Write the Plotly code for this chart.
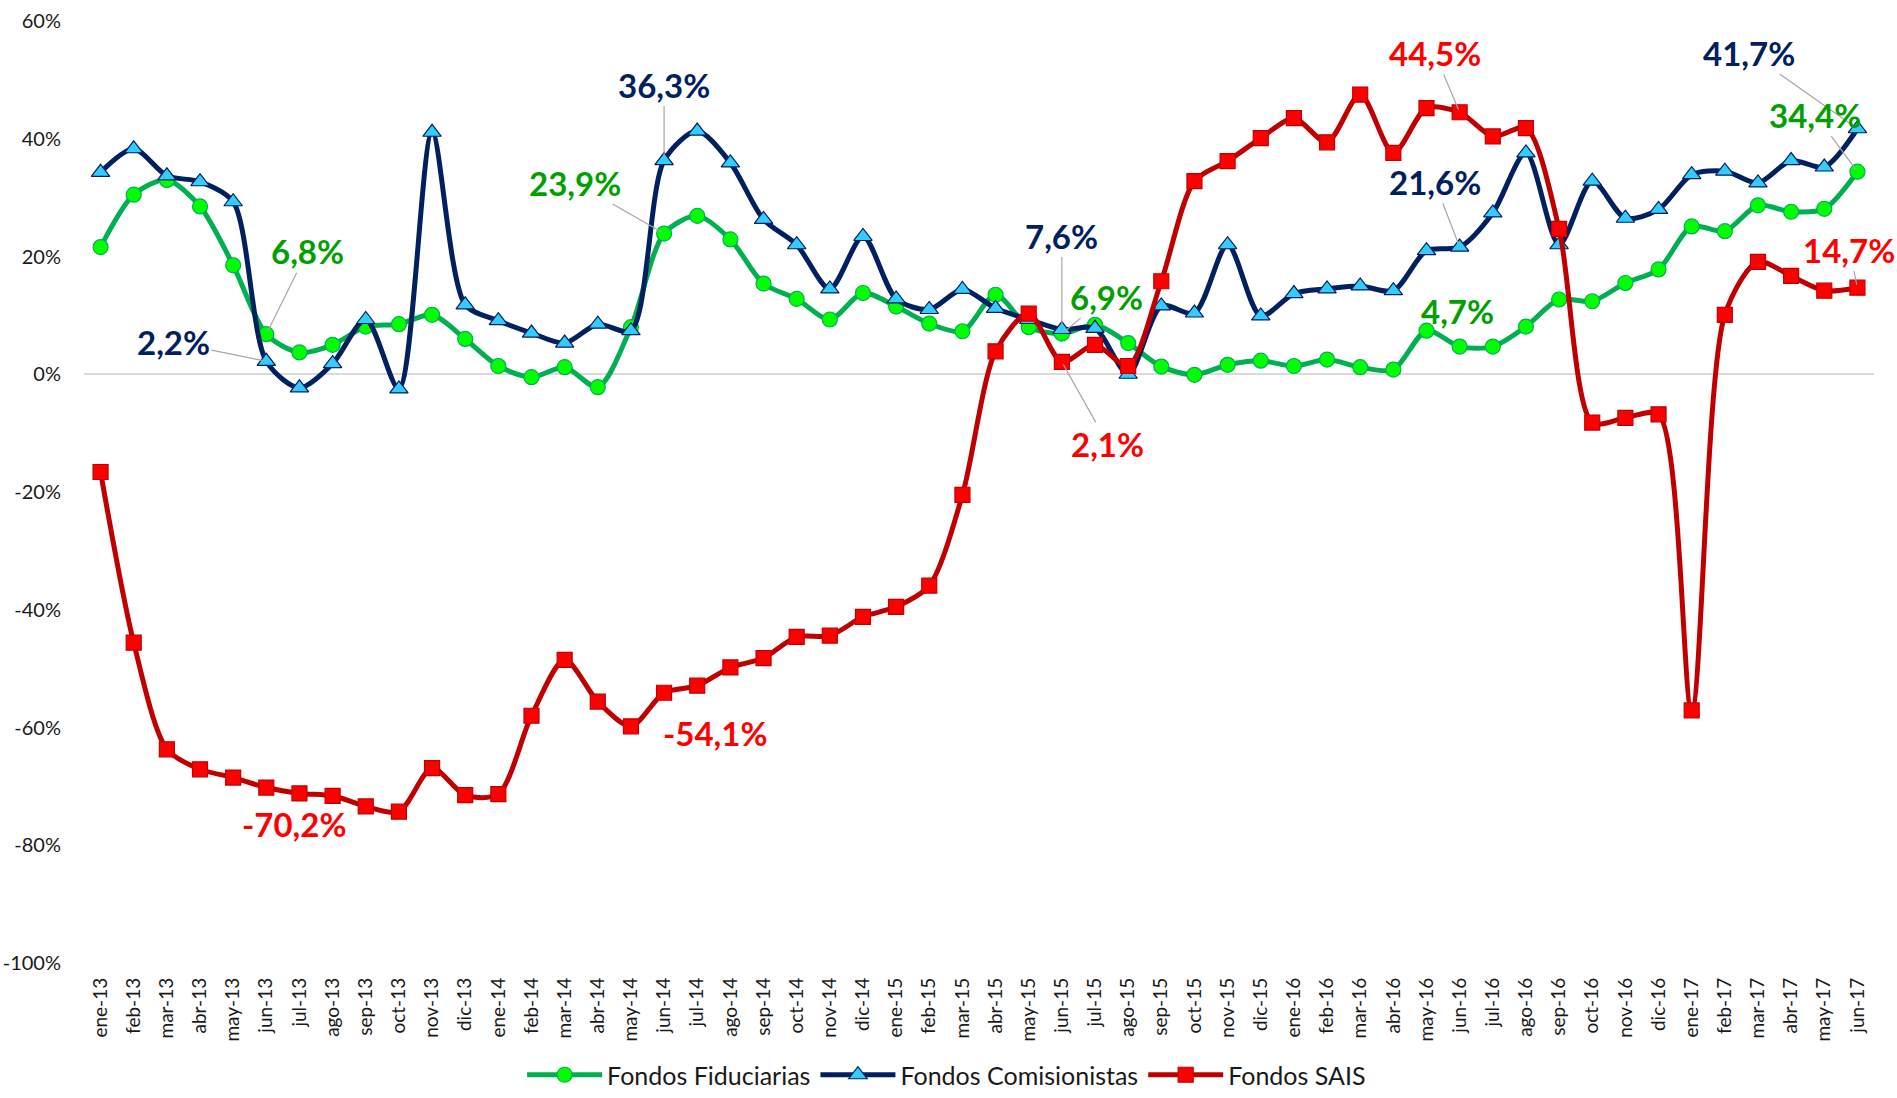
import plotly.graph_objects as go

months = ["ene-13", "feb-13", "mar-13", "abr-13", "may-13", "jun-13", "jul-13", "ago-13", "sep-13", "oct-13", "nov-13", "dic-13",
          "ene-14", "feb-14", "mar-14", "abr-14", "may-14", "jun-14", "jul-14", "ago-14", "sep-14", "oct-14", "nov-14", "dic-14",
          "ene-15", "feb-15", "mar-15", "abr-15", "may-15", "jun-15", "jul-15", "ago-15", "sep-15", "oct-15", "nov-15", "dic-15",
          "ene-16", "feb-16", "mar-16", "abr-16", "may-16", "jun-16", "jul-16", "ago-16", "sep-16", "oct-16", "nov-16", "dic-16",
          "ene-17", "feb-17", "mar-17", "abr-17", "may-17", "jun-17"]

fiduciarias = [21.6, 30.5, 33.0, 28.5, 18.5, 6.8, 3.7, 5.0, 8.1, 8.5, 10.1, 6.0,
               1.4, -0.5, 1.2, -2.2, 8.0, 23.9, 26.9, 22.9, 15.4, 12.8, 9.3, 13.8,
               11.5, 8.6, 7.3, 13.5, 8.0, 6.9, 8.4, 5.3, 1.3, -0.1, 1.6, 2.3,
               1.4, 2.5, 1.2, 0.8, 7.4, 4.7, 4.7, 8.1, 12.7, 12.4, 15.5, 17.8,
               25.1, 24.3, 28.7, 27.6, 28.1, 34.4]

comisionistas = [34.3, 38.3, 33.7, 32.7, 29.3, 2.2, -2.3, 1.8, 9.3, -2.5, 41.1, 11.8,
                 9.1, 7.0, 5.3, 8.5, 7.4, 36.3, 41.3, 35.9, 26.3, 22.0, 14.5, 23.4,
                 12.8, 11.0, 14.4, 11.2, 9.3, 7.6, 7.8, 0.0, 11.6, 10.4, 22.0, 9.9,
                 13.7, 14.5, 15.0, 14.2, 21.0, 21.6, 27.4, 37.6, 22.0, 32.8, 26.5, 28.0,
                 33.9, 34.5, 32.5, 36.3, 35.2, 41.7]

sais = [-16.6, -45.6, -63.7, -67.1, -68.5, -70.2, -71.2, -71.6, -73.4, -74.3, -66.9, -71.5,
        -71.3, -58.0, -48.5, -55.6, -59.8, -54.1, -52.9, -49.8, -48.2, -44.6, -44.4, -41.2,
        -39.5, -35.9, -20.5, 3.9, 10.3, 2.1, 5.0, 1.4, 15.8, 32.8, 36.2, 40.1,
        43.5, 39.4, 47.5, 37.6, 45.2, 44.5, 40.4, 41.8, 24.7, -8.2, -7.4, -6.8,
        -57.1, 10.1, 19.1, 16.7, 14.2, 14.7]

y_ticks = [60, 40, 20, 0, -20, -40, -60, -80, -100]
y_tick_labels = ["60%", "40%", "20%", "0%", "-20%", "-40%", "-60%", "-80%", "-100%"]

series_names = ["Fondos Fiduciarias", "Fondos Comisionistas", "Fondos SAIS"]

# style per series
styles = {
    "Fondos Fiduciarias": dict(line="#00b050", fill="#00ff00", border="#00b050", symbol="circle", size=15, label="#00a000"),
    "Fondos Comisionistas": dict(line="#002060", fill="#33ccff", border="#002060", symbol="triangle-up", size=16, label="#002060"),
    "Fondos SAIS": dict(line="#c00000", fill="#ff0000", border="#c00000", symbol="square", size=15, label="#ff0000"),
}
values = {"Fondos Fiduciarias": fiduciarias, "Fondos Comisionistas": comisionistas, "Fondos SAIS": sais}

# callouts: (series, month, offset x px, offset y px, leader line)
callouts = [
    ("Fondos Comisionistas", "jun-13", -93, -19, True),
    ("Fondos Fiduciarias", "jun-13", 41, -83, True),
    ("Fondos Fiduciarias", "jun-14", -89, -51, True),
    ("Fondos Comisionistas", "jun-14", 0, -76, True),
    ("Fondos SAIS", "jun-13", 28, 36, False),
    ("Fondos SAIS", "jun-14", 51, 40, False),
    ("Fondos Comisionistas", "jun-15", 0, -94, True),
    ("Fondos Fiduciarias", "jun-15", 45, -37, True),
    ("Fondos SAIS", "jun-15", 46, 82, True),
    ("Fondos SAIS", "jun-16", -25, -59, True),
    ("Fondos Comisionistas", "jun-16", -25, -65, True),
    ("Fondos Fiduciarias", "jun-16", -2, -36, False),
    ("Fondos Comisionistas", "jun-17", -108, -76, True),
    ("Fondos Fiduciarias", "jun-17", -42, -57, True),
    ("Fondos SAIS", "jun-17", -8, -38, True),
]

fig = go.Figure()
for name in series_names:
    st = styles[name]
    fig.add_trace(go.Scatter(
        x=months, y=values[name], name=name, mode="lines+markers",
        line=dict(color=st["line"], width=5, shape="spline", smoothing=0.8),
        marker=dict(symbol=st["symbol"], size=st["size"], color=st["fill"],
                    line=dict(color=st["border"], width=1.2)),
    ))

annotations = []
for name, m, ax, ay, arrow in callouts:
    v = values[name][months.index(m)]
    txt = f"{v:.1f}%".replace(".", ",")
    font = dict(family="Lato, 'Open Sans', sans-serif", size=33, color=styles[name]["label"], weight="bold")
    if arrow:
        annotations.append(dict(x=m, y=v, xref="x", yref="y", text=txt, showarrow=True,
                                ax=ax, ay=ay, arrowhead=0, arrowwidth=1.2, arrowcolor="#a6a6a6",
                                standoff=3, font=font))
    else:
        annotations.append(dict(x=m, y=v, xref="x", yref="y", text=txt, showarrow=False,
                                xshift=ax, yshift=-ay, font=font))

fig.update_layout(
    width=1897, height=1098,
    margin=dict(l=84, r=23, t=21, b=135, autoexpand=False),
    paper_bgcolor="white", plot_bgcolor="white",
    font=dict(family="Lato, 'Open Sans', sans-serif", color="#1a1a1a"),
    annotations=annotations,
    showlegend=True,
    legend=dict(orientation="h", xref="container", yref="container", x=0.499, y=0.0,
                xanchor="center", yanchor="bottom", font=dict(size=25, color="#1a1a1a"),
                itemwidth=75, traceorder="normal"),
)
fig.update_xaxes(
    type="category", range=[-0.5, len(months) - 0.5], showgrid=False, zeroline=False,
    showline=False, tickangle=-90, tickfont=dict(size=19), ticks="", ticklabelstandoff=10,
    automargin=False,
)
fig.update_yaxes(
    range=[-100, 60], tickvals=y_ticks, ticktext=y_tick_labels, showgrid=False,
    zeroline=True, zerolinecolor="#d9d9d9", zerolinewidth=1.5, showline=False,
    tickfont=dict(size=20), ticks="", ticklabelstandoff=22, automargin=False,
)

fig.write_html("out.html", config={"displayModeBar": False},
               post_script="document.body.style.margin='0';document.body.style.overflow='hidden';")
